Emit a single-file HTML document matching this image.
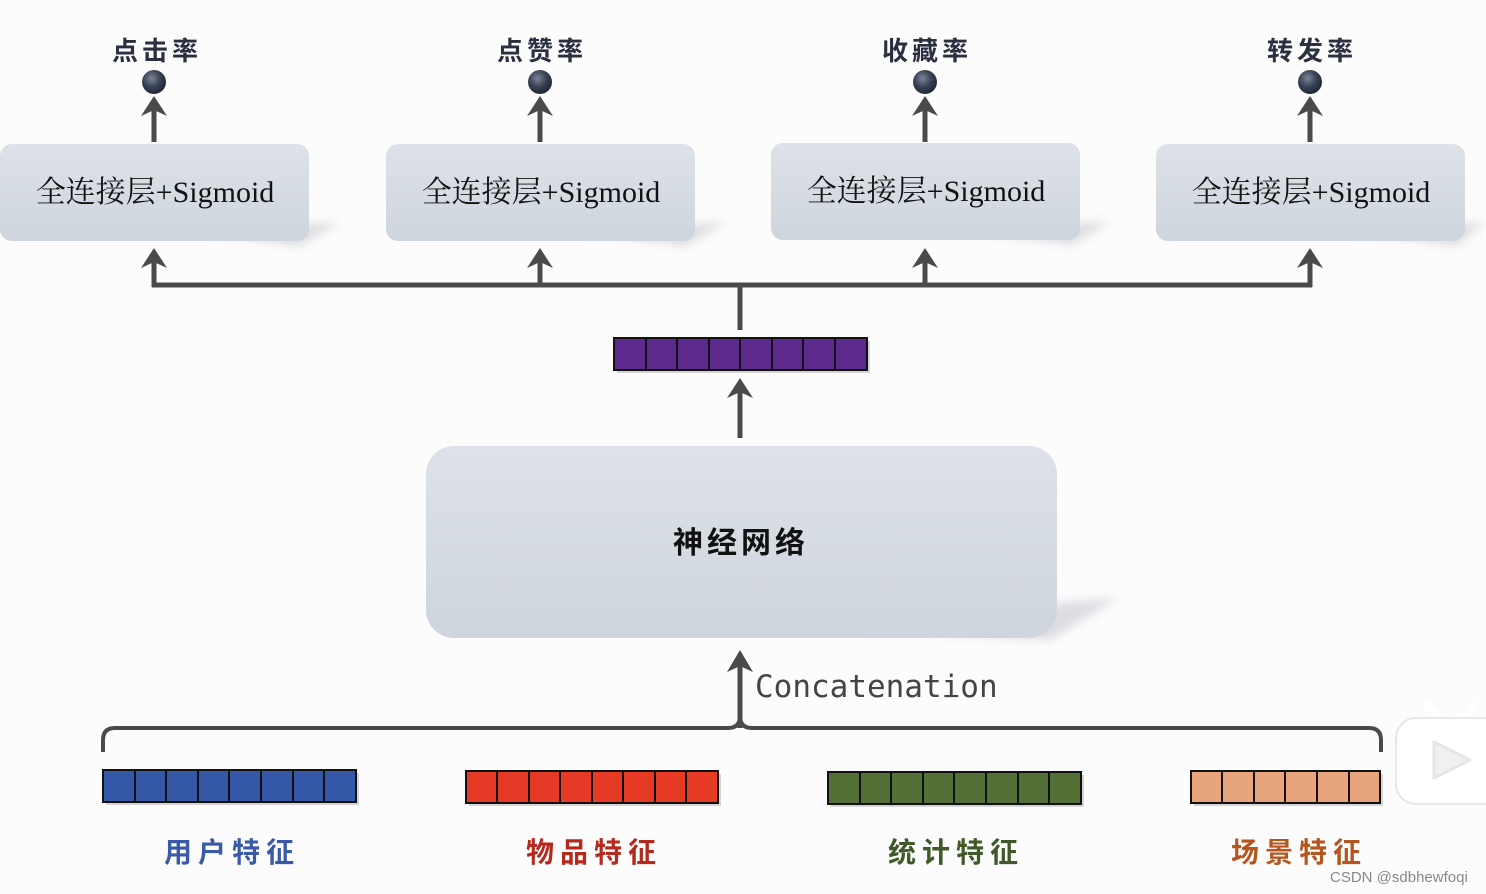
<!DOCTYPE html>
<html><head><meta charset="utf-8"><style>
html,body{margin:0;padding:0;background:#fdfcfd;}
svg{display:block;}
.t{font-family:"Liberation Serif","Noto Serif CJK SC",serif;}
.k{font-family:"Liberation Sans","Noto Sans CJK SC",sans-serif;font-weight:bold;}
</style></head><body>
<svg width="1486" height="894" viewBox="0 0 1486 894" xmlns="http://www.w3.org/2000/svg">
<defs>
<linearGradient id="bx" x1="0" y1="0" x2="0" y2="1"><stop offset="0" stop-color="#dde2e8"/><stop offset="1" stop-color="#cfd5dd"/></linearGradient>
<radialGradient id="ball" cx="0.4" cy="0.35" r="0.7"><stop offset="0" stop-color="#7a8698"/><stop offset="0.5" stop-color="#3a4456"/><stop offset="1" stop-color="#1c2330"/></radialGradient>
<filter id="bl" x="-20%" y="-50%" width="140%" height="200%"><feGaussianBlur stdDeviation="5"/></filter>
</defs>
<rect width="1486" height="894" fill="#fdfcfd"/>
<!-- shadows -->
<g fill="#bfc3c8" opacity="0.55" filter="url(#bl)">
<path d="M200 232L340 222L300 246Z"/><path d="M586 232L726 222L686 246Z"/><path d="M971 231L1111 221L1071 245Z"/><path d="M1356 232L1486 222L1456 246Z"/>
<path d="M800 625L1118 598L1050 640Z"/>
</g>
<g>
<rect x="0" y="144" width="309" height="97" rx="12" fill="url(#bx)"/>
<rect x="386" y="144" width="309" height="97" rx="12" fill="url(#bx)"/>
<rect x="771" y="143" width="309" height="97" rx="12" fill="url(#bx)"/>
<rect x="1156" y="144" width="309" height="97" rx="12" fill="url(#bx)"/>
</g>
<g class="t" font-size="30" fill="#111" text-anchor="middle">
<text x="155" y="202">全连接层+Sigmoid</text>
<text x="541" y="202">全连接层+Sigmoid</text>
<text x="926" y="201">全连接层+Sigmoid</text>
<text x="1311" y="202">全连接层+Sigmoid</text>
</g>
<g class="k" font-size="26" fill="#2b3040" text-anchor="middle" letter-spacing="4">
<text x="157" y="60">点击率</text>
<text x="542" y="60">点赞率</text>
<text x="927" y="60">收藏率</text>
<text x="1312" y="60">转发率</text>
</g>
<g fill="url(#ball)">
<circle cx="154" cy="82" r="12"/><circle cx="540" cy="82" r="12"/><circle cx="925" cy="82" r="12"/><circle cx="1310" cy="82" r="12"/>
</g>
<g stroke="#4a4a4a" stroke-width="5" fill="none">
<path d="M154 142V110M540 142V110M925 142V110M1310 142V110"/>
<path d="M154 287V262M540 287V262M925 287V262M1310 287V262"/>
<path d="M152 285H1312"/>
<path d="M740 285V330"/>
<path d="M740 438V392"/>
<path d="M740 728V666"/>
<path d="M103 752V740Q103 728 115 728H728Q740 728 740 716Q740 728 752 728H1369Q1381 728 1381 740V752" stroke-width="4"/>
</g>
<g fill="#4a4a4a">
<path d="M141 116L154 96L167 116L154 110Z"/><path d="M527 116L540 96L553 116L540 110Z"/><path d="M912 116L925 96L938 116L925 110Z"/><path d="M1297 116L1310 96L1323 116L1310 110Z"/>
<path d="M141 268L154 248L167 268L154 262Z"/><path d="M527 268L540 248L553 268L540 262Z"/><path d="M912 268L925 248L938 268L925 262Z"/><path d="M1297 268L1310 248L1323 268L1310 262Z"/>
<path d="M727 398L740 378L753 398L740 392Z"/>
<path d="M727 672L740 650L753 672L740 666Z"/>
</g>
<!-- purple vector -->
<rect x="617" y="341" width="253" height="32" fill="#999" opacity="0.4"/>
<g stroke="#111" stroke-width="2" fill="#5b2a8c">
<rect x="614" y="338" width="253" height="32"/>
<path d="M646 338v32M677 338v32M709 338v32M740 338v32M772 338v32M803 338v32M835 338v32"/>
</g>
<rect x="426" y="446" width="631" height="192" rx="28" fill="url(#bx)"/>
<text class="k" x="741" y="553" font-size="30" fill="#111" text-anchor="middle" letter-spacing="4">神经网络</text>
<text x="755" y="697" font-family="'DejaVu Sans Mono','Liberation Mono',monospace" font-size="31" fill="#444">Concatenation</text>
<g fill="#999" opacity="0.4">
<rect x="106" y="773" width="253" height="32"/><rect x="469" y="774" width="252" height="32"/><rect x="831" y="775" width="253" height="32"/><rect x="1194" y="774" width="189" height="32"/>
</g>
<g stroke="#111" stroke-width="2">
<rect x="103" y="770" width="253" height="32" fill="#3557a8"/>
<path d="M135 770v32M166 770v32M198 770v32M229 770v32M261 770v32M293 770v32M324 770v32"/>
<rect x="466" y="771" width="252" height="32" fill="#e53a25"/>
<path d="M497 771v32M529 771v32M560 771v32M592 771v32M623 771v32M655 771v32M686 771v32"/>
<rect x="828" y="772" width="253" height="32" fill="#527035"/>
<path d="M860 772v32M891 772v32M923 772v32M954 772v32M986 772v32M1018 772v32M1049 772v32"/>
<rect x="1191" y="771" width="189" height="32" fill="#e8a57c"/>
<path d="M1222 771v32M1254 771v32M1285 771v32M1317 771v32M1349 771v32"/>
</g>
<g class="k" font-size="28" text-anchor="middle" letter-spacing="6">
<text x="232" y="862" fill="#3a5aa8">用户特征</text>
<text x="594" y="862" fill="#b32a1e">物品特征</text>
<text x="956" y="862" fill="#3f5a28">统计特征</text>
<text x="1299" y="862" fill="#b5561f">场景特征</text>
</g>
<g>
<path d="M1428 706l14 14M1474 706l-14 14" stroke="#fff" stroke-width="9" stroke-linecap="round"/>
<rect x="1396" y="718" width="110" height="86" rx="20" fill="#fff" stroke="#e8e8e8" stroke-width="2"/>
<path d="M1434 742L1470 760L1434 778Z" fill="#f0f0f0" stroke="#e6e6e6" stroke-width="3" stroke-linejoin="round"/>
</g>
<text x="1330" y="882" font-family="'Liberation Sans',sans-serif" font-size="15" fill="#888">CSDN @sdbhewfoqi</text>
</svg>
</body></html>
